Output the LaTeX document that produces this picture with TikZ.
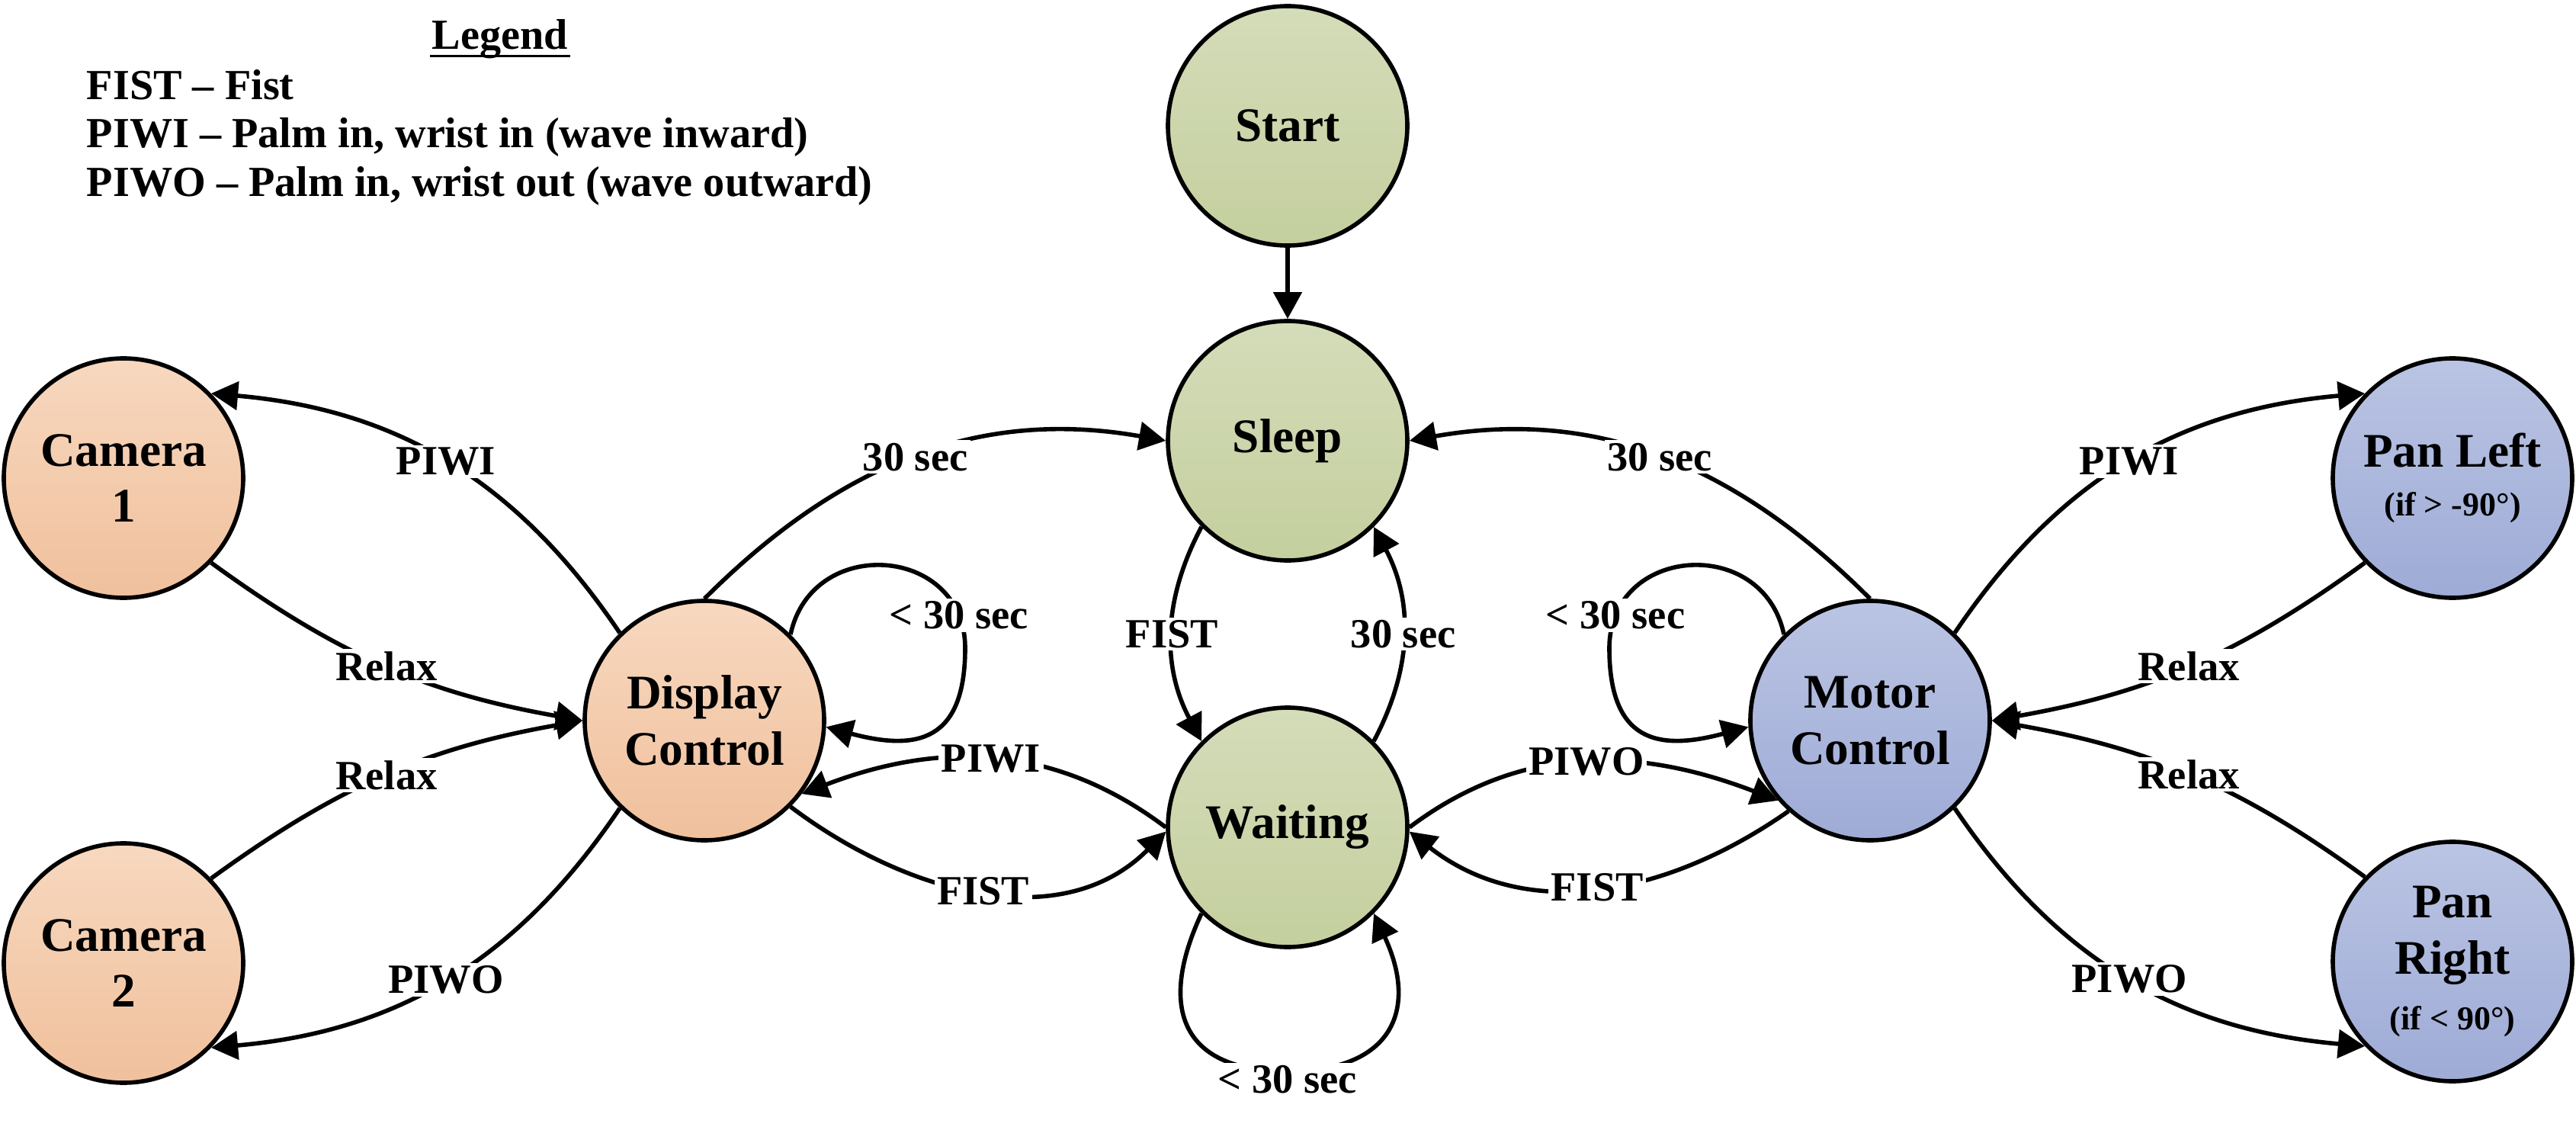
\documentclass[tikz,border=0pt]{standalone}
\usepackage{fontspec}
\setmainfont{Liberation Serif}
\usepackage{tikz}
\usetikzlibrary{arrows.meta}
\usetikzlibrary{calc}
\definecolor{gtop}{RGB}{212,220,185}
\definecolor{gbot}{RGB}{196,207,158}
\definecolor{otop}{RGB}{247,216,191}
\definecolor{obot}{RGB}{240,192,156}
\definecolor{btop}{RGB}{186,196,227}
\definecolor{bbot}{RGB}{158,171,214}

\begin{document}
\begin{tikzpicture}[line width=1.6pt,>={Triangle[length=10pt,width=10.5pt]},
st/.style={circle,draw,minimum size=3.14cm,inner sep=0pt,align=center,font=\fontsize{18}{21}\selectfont\bfseries},
gn/.style={st,top color=gtop,bottom color=gbot},
og/.style={st,top color=otop,bottom color=obot},
bl/.style={st,top color=btop,bottom color=bbot},
lb/.style={fill=white,inner sep=1pt,font=\fontsize{15.5}{18}\selectfont\bfseries},
lg/.style={inner sep=0pt,font=\fontsize{16}{19}\selectfont\bfseries}]
\useasboundingbox (0,0) rectangle (33.79,-14.78);

\node (lgh) at (6.56,-0.65) [anchor=base,lg] {Legend};
\draw[line width=0.8pt] ([yshift=-2.5pt]lgh.base west) -- ([yshift=-2.5pt]lgh.base east);
\node (lg1) at (1.11,-1.30) [anchor=base west,lg] {FIST -- Fist};
\node (lg2) at (1.11,-1.93) [anchor=base west,lg] {PIWI -- Palm in, wrist in (wave inward)};
\node (lg3) at (1.11,-2.57) [anchor=base west,lg] {PIWO -- Palm in, wrist out (wave outward)};

\node (start) at (16.89,-1.65) [gn] {Start};
\node (sleep) at (16.89,-5.78) [gn] {Sleep};
\node (wait) at (16.89,-10.85) [gn] {Waiting};
\node (disp) at (9.24,-9.45) [og] {Display\\Control};
\node (mot) at (24.53,-9.45) [bl] {Motor\\Control};
\foreach \i/\y in {1/-6.27,2/-12.63} {
\node (c\i) at (1.62,\y) [og] {Camera\\\i};
}
\node (pl) at (32.17,-6.27) [bl] {Pan Left\\[-3pt]\fontsize{12.5}{14}\selectfont (if > -90°)};
\node (pr) at (32.17,-12.61) [bl] {Pan\\Right\\\fontsize{12.5}{14}\selectfont (if < 90°)};

\coordinate (dl) at (12.66,-8.5);
\coordinate (ml) at (21.11,-8.5);
\coordinate (wl) at (16.89,-14.05);

\draw[->] (start) -- (sleep);
\draw[->] (disp.north) to[out=45,in=170] node[lb] {30 sec} (sleep.west);
\draw[->] (mot.north) to[out=135,in=10] node[lb] {30 sec} (sleep.east);
\draw[->] (sleep.225) to[bend right=28] node[lb] {FIST} (wait.135);
\draw[->] (wait.45) to[bend right=28] node[lb] {30 sec} (sleep.315);

\draw[->] (disp.45) to[out=78,in=90,looseness=1.5] node[lb,pos=0.88] {< 30 sec} (dl) to[out=-90,in=-15,looseness=1.5] (disp.-3);
\draw[->] (mot.135) to[out=102,in=90,looseness=1.5] node[lb,pos=0.88] {< 30 sec} (ml) to[out=-90,in=195,looseness=1.5] (mot.183);
\draw[->] (wait.225) to[out=245,in=180,looseness=1.5] node[lb,pos=1,yshift=-3pt] {< 30 sec} (wl) to[out=0,in=-65,looseness=1.5] (wait.-45);

\draw[->] (wait.west) to[out=143,in=21] node[lb] {PIWI} (disp.-37);
\draw[->] (disp.-45) to[out=-37,in=225] node[lb] {FIST} (wait.182);
\draw[->] (wait.east) to[out=37,in=159] node[lb] {PIWO} (mot.221);
\draw[->] (mot.228) to[out=215,in=-38] node[lb] {FIST} (wait.-2);

\draw[->] (disp.134) to[out=124,in=-5] node[lb] {PIWI} (c1.44);
\draw[->] (c1.-44) to[out=-36,in=170] node[lb] {Relax} (disp.west);
\draw[->] (c2.44) to[out=36,in=190] node[lb] {Relax} (disp.west);
\draw[->] (disp.-134) to[out=-124,in=5] node[lb] {PIWO} (c2.-44);

\draw[->] (mot.46) to[out=56,in=185] node[lb] {PIWI} (pl.136);
\draw[->] (pl.-136) to[out=-144,in=10] node[lb] {Relax} (mot.east);
\draw[->] (pr.136) to[out=144,in=-10] node[lb] {Relax} (mot.east);
\draw[->] (mot.-46) to[out=-56,in=175] node[lb] {PIWO} (pr.-136);
\end{tikzpicture}
\end{document}
